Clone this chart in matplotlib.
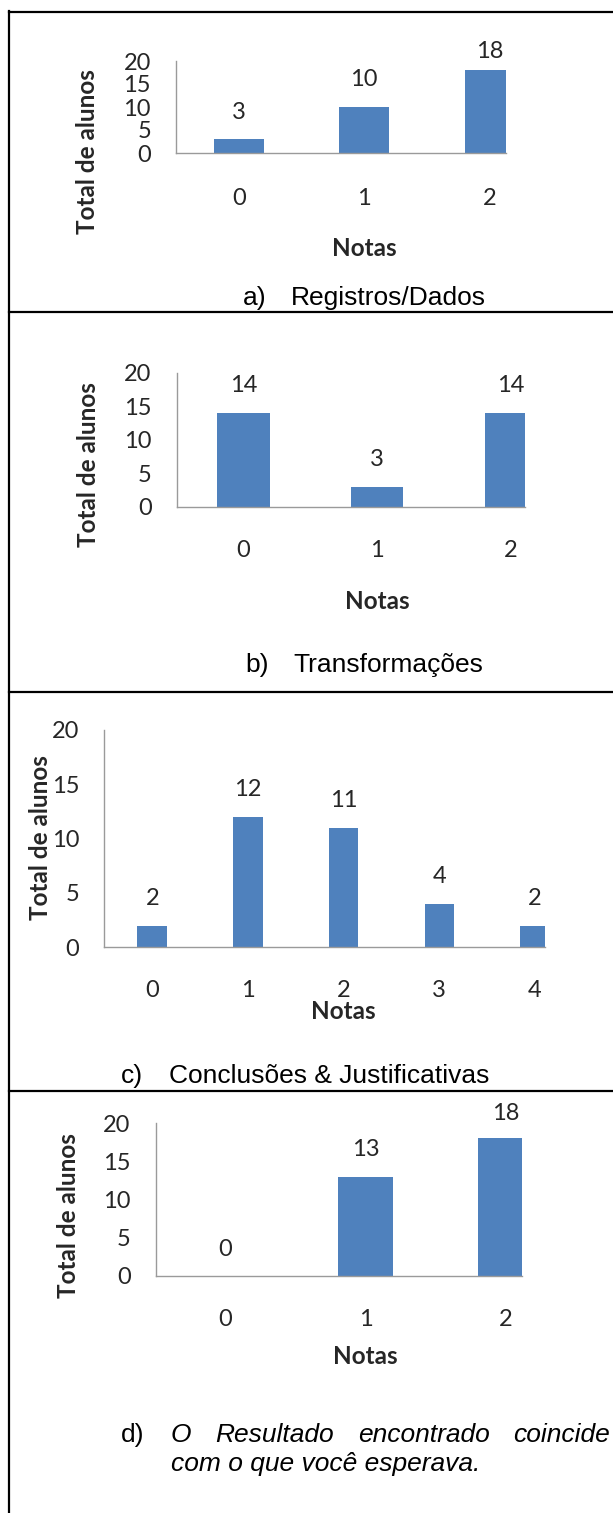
import matplotlib
matplotlib.use('Agg')
import matplotlib.pyplot as plt
from matplotlib.lines import Line2D

# ---------------- data ----------------
notas_a = ['0', '1', '2']
alunos_a = [3, 10, 18]
notas_b = ['0', '1', '2']
alunos_b = [14, 3, 14]
notas_c = ['0', '1', '2', '3', '4']
alunos_c = [2, 12, 11, 4, 2]
notas_d = ['0', '1', '2']
alunos_d = [0, 13, 18]
y_ticks = [0, 5, 10, 15, 20]
y_label = 'Total de alunos'
x_label = 'Notas'
cap_letters = ['a)', 'b)', 'c)', 'd)']
cap_texts = ['Registros/Dados', 'Transformações', 'Conclusões & Justificativas']
cap_d_line1 = ['O', 'Resultado', 'encontrado', 'coincide']
cap_d_line2 = 'com o que você esperava.'

# ---------------- layout ----------------
W, H, DPI = 613, 1513, 100
fig = plt.figure(figsize=(W / DPI, H / DPI), dpi=DPI)
fig.patch.set_facecolor('white')

CHART_FONT = ['Lato', 'DejaVu Sans']
CAP_FONT = ['Liberation Sans', 'DejaVu Sans']
BAR_COLOR = '#4F81BD'
AXIS_COLOR = '#9A9A9A'
TXT = '#262626'


def fx(px):
    return px / W


def fy(py):
    return 1 - py / H


panels = [
    dict(cats=notas_a, vals=alunos_a, x0=176, x1=505.5, ytop=61, ybase=153, bw=0.40, spc=125.5,
         fs=17, lfs=17.5, ylx=88, yly=152, xtk=45, nota=95),
    dict(cats=notas_b, vals=alunos_b, x0=176.7, x1=524.6, ytop=372.7, ybase=506.7, bw=0.39, spc=133.7,
         fs=17, lfs=17.5, ylx=89, yly=465, xtk=43, nota=95),
    dict(cats=notas_c, vals=alunos_c, x0=104.4, x1=544.6, ytop=730, ybase=947.3, bw=0.31, spc=95.7,
         fs=17, lfs=17.5, ylx=41, yly=838, xtk=43, nota=64),
    dict(cats=notas_d, vals=alunos_d, x0=155.6, x1=521.5, ytop=1123, ybase=1276, bw=0.39, spc=140.0,
         fs=17, lfs=17.5, ylx=68.4, yly=1216, xtk=43, nota=80),
]

for p in panels:
    n = len(p['cats'])
    ax = fig.add_axes([fx(p['x0']), fy(p['ybase']), fx(p['x1'] - p['x0']),
                       (p['ybase'] - p['ytop']) / H])
    ax.set_facecolor('none')
    xs = list(range(n))
    ax.bar(xs, p['vals'], width=p['bw'], color=BAR_COLOR, edgecolor='none', zorder=2)
    ax.set_ylim(0, 20)
    # chart area is clipped on the right, as in the reference
    ax.set_xlim(-0.5, -0.5 + (p['x1'] - p['x0']) / p['spc'])
    for s in ['top', 'right']:
        ax.spines[s].set_visible(False)
    for s in ['left', 'bottom']:
        ax.spines[s].set_color(AXIS_COLOR)
        ax.spines[s].set_linewidth(1.0)
        ax.spines[s].set_zorder(3)
    ax.set_yticks(y_ticks)
    ax.set_yticklabels([str(t) for t in y_ticks], fontfamily=CHART_FONT, fontsize=p['fs'], color=TXT)
    ax.set_xticks(xs)
    ax.set_xticklabels(p['cats'], fontfamily=CHART_FONT, fontsize=p['fs'], color=TXT)
    ax.tick_params(axis='both', length=0)
    ax.tick_params(axis='y', pad=18)
    ax.tick_params(axis='x', pad=(p['xtk'] - 10) * 72 / DPI)

    ppu = (p['ybase'] - p['ytop']) / 20.0
    for i, v in enumerate(p['vals']):
        yv = min(v + 27 / ppu, 20 + 9 / ppu)
        ax.text(i, yv, str(v), ha='center', va='center', fontfamily=CHART_FONT,
                fontsize=p['fs'], color=TXT, clip_on=False)
    mid = (n - 1) / 2
    ax.text(mid, -p['nota'] / ppu, x_label, ha='center', va='center', fontfamily=CHART_FONT,
            fontsize=p['lfs'], fontweight='bold', color=TXT, clip_on=False)
    fig.text(fx(p['ylx']), fy(p['yly']), y_label, rotation=90, ha='center', va='center',
             fontfamily=CHART_FONT, fontsize=p['lfs'], fontweight='bold', color=TXT)

# ---------------- captions ----------------
CFS = 19
cap_pos = [(298, 243, 291), (665, 245.5, 293), (1076, 120.4, 169)]
for (y, xl, xt), let, txt in zip(cap_pos, cap_letters[:3], cap_texts):
    fig.text(fx(xl), fy(y), let, ha='left', va='center', fontfamily=CAP_FONT, fontsize=CFS, color='black')
    fig.text(fx(xt), fy(y), txt, ha='left', va='center', fontfamily=CAP_FONT, fontsize=CFS, color='black')

# caption d (justified first line)
fig.text(fx(120.4), fy(1435), cap_letters[3], ha='left', va='center', fontfamily=CAP_FONT,
         fontsize=CFS, color='black')
renderer = fig.canvas.get_renderer()
left_px, right_px = 170.8, 610.0
words = []
widths = []
for w in cap_d_line1:
    t = fig.text(0, fy(1435), w, ha='left', va='center', fontfamily=CAP_FONT, fontsize=CFS,
                 style='italic', color='black')
    bb = t.get_window_extent(renderer)
    words.append(t)
    widths.append(bb.width)
gap = (right_px - left_px - sum(widths)) / (len(words) - 1)
xcur = left_px
for t, wd in zip(words, widths):
    t.set_x(fx(xcur))
    xcur += wd + gap
fig.text(fx(left_px), fy(1464), cap_d_line2, ha='left', va='center', fontfamily=CAP_FONT,
         fontsize=CFS, style='italic', color='black')

# ---------------- table borders ----------------
for y in [12, 312, 691.7, 1091]:
    fig.add_artist(Line2D([fx(9.3), 1.0], [fy(y), fy(y)], color='black', linewidth=1.6,
                          transform=fig.transFigure))
fig.add_artist(Line2D([fx(9.3), fx(9.3)], [fy(11.2), 0.0], color='black', linewidth=1.6,
                      transform=fig.transFigure))

fig.savefig('out.png', dpi=DPI, facecolor='white')
